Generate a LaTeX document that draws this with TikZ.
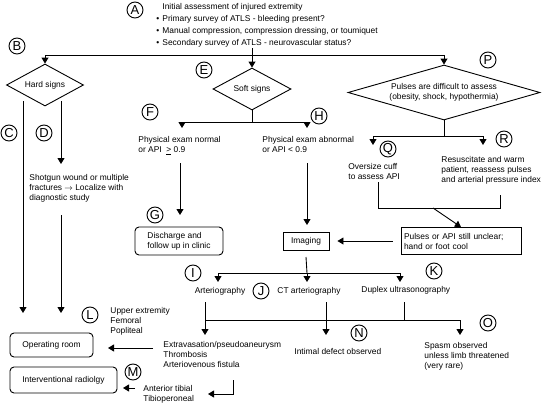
\documentclass[tikz,border=0pt]{standalone}
\usepackage{fontspec}
\setmainfont{Liberation Sans}
\usetikzlibrary{arrows.meta,shapes.geometric}
\begin{document}
\begin{tikzpicture}[x=1pt,y=-1pt,line width=0.9pt,
  arr/.style={-{Triangle[width=7pt,length=6pt]}},
  lab/.style={circle,draw,minimum size=16pt,inner sep=0pt,font=\fontsize{13}{13}\selectfont},
  txt/.style={inner sep=0pt,align=left,anchor=north west,font=\fontsize{8.4}{10}\selectfont},
  dia/.style={diamond,draw,inner sep=0pt,aspect=3,font=\fontsize{8.4}{10}\selectfont,align=center},
  rbox/.style={draw,rounded corners=4pt,inner sep=0pt,font=\fontsize{8.4}{10}\selectfont,align=left},
  sbox/.style={draw,inner sep=0pt,font=\fontsize{8.4}{10}\selectfont,align=left}]
\fill[white] (0,0) rectangle (542,405);
\useasboundingbox (0,0) rectangle (542,405);

% letter labels
\node[lab] (lA) at (135,10) {A};
\node[lab] (lB) at (17,46) {B};
\node[lab] (lC) at (9,133) {C};
\node[lab] (lD) at (44,133) {D};
\node[lab] (lE) at (204,70) {E};
\node[lab] (lF) at (150,112) {F};
\node[lab] (lG) at (155,215) {G};
\node[lab] (lH) at (319,116) {H};
\node[lab] (lI) at (193,273) {I};
\node[lab] (lJ) at (261,291) {J};
\node[lab] (lK) at (434,271) {K};
\node[lab] (lL) at (90,315) {L};
\node[lab] (lM) at (133,372) {M};
\node[lab] (lN) at (359,333) {N};
\node[lab] (lO) at (488,323) {O};
\node[lab] (lP) at (488,60) {P};
\node[lab] (lQ) at (388,149) {Q};
\node[lab] (lR) at (504,139) {R};

% A text
\node[txt,font=\fontsize{8.4}{12}\selectfont] (tA) at (156,3)
 {\makebox[6pt][l]{}Initial assessment of injured extremity\\
  \makebox[6pt][l]{\textbullet}Primary survey of ATLS - bleeding present?\\
  \makebox[6pt][l]{\textbullet}Manual compression, compression dressing, or toumiquet\\
  \makebox[6pt][l]{\textbullet}Secondary survey of ATLS - neurovascular status?};

% diamonds
\node[dia,aspect=1.8,minimum width=77pt,minimum height=42pt] (hard) at (45,85) {Hard signs};
\node[dia,aspect=1.8,minimum width=78pt,minimum height=42pt] (soft) at (252,89) {Soft signs};
\node[dia,aspect=3.5,minimum width=192pt,minimum height=55pt] (pul) at (444,92.5)
 {Pulses are difficult to assess\\(obesity, shock, hypothermia)};

% texts
\node[txt] (tD) at (29,174) {Shotgun wound or multiple\\fractures $\rightarrow$ Localize with\\diagnostic study};
\node[txt] (tF) at (138,136) {Physical exam normal\\or API\ \ \underline{>} 0.9};
\node[txt] (tH) at (262,136) {Physical exam abnormal\\or API < 0.9};
\node[txt] (tQ) at (348,163) {Oversize cuff\\to assess API};
\node[txt] (tR) at (441,156) {Resuscitate and warm\\patient, reassess pulses\\and arterial pressure index};
\node[txt,anchor=north] (tI) at (220,287) {Arteriography};
\node[txt] (tJ) at (277,287) {CT arteriography};
\node[txt] (tK) at (361,286) {Duplex ultrasonography};
\node[txt] (tX) at (163,341) {Extravasation/pseudoaneurysm\\Thrombosis\\Arteriovenous fistula};
\node[txt] (tN) at (294,348) {Intimal defect observed};
\node[txt] (tO) at (424,342) {Spasm observed\\unless limb threatened\\(very rare)};
\node[txt] (tL) at (110,307) {Upper extremity\\Femoral\\Popliteal};
\node[txt] (tM) at (143,385) {Anterior tibial\\Tibioperoneal};

% boxes
\node[rbox,minimum width=88pt,minimum height=28pt] (dis) at (179,241) {Discharge and\\follow up in clinic};
\node[sbox,minimum width=46pt,minimum height=18pt] (img) at (306,241) {Imaging};
\node[sbox,text width=114pt,inner xsep=3pt,minimum height=27pt] (pbox) at (461,241)
 {Pulses or API still unclear;\\hand or foot cool};
\node[rbox,align=center,minimum width=83pt,minimum height=24pt] (orm) at (51.5,345) {Operating room};
\node[rbox,align=center,minimum width=107pt,minimum height=26pt] (irad) at (63.5,380) {Interventional radiolgy};

% top connectors
\coordinate (aBot) at (252,48);
\coordinate (jL) at (45,55);
\coordinate (jR) at (444,55);
\draw (jL) -- (jR);
\draw[arr] (jL) -- (hard.north);
\draw[arr] (aBot) -- (soft.north);
\draw[arr] (jR) -- (pul.north);

% hard signs
\coordinate (c1) at (23,101); \coordinate (c2) at (23,313);
\draw[arr] (c1) -- (c2);
\coordinate (d1) at (61,101); \coordinate (d2) at (61,164);
\draw[arr] (d1) -- (d2);
\coordinate (d3) at (61,215); \coordinate (d4) at (61,313);
\draw[arr] (d3) -- (d4);

% soft signs
\coordinate (sj) at (252,122);
\coordinate (fj) at (182,122); \coordinate (hj) at (307,122);
\draw (soft.south) -- (sj);
\draw (fj) -- (hj);
\draw[arr] (fj) -- ++(0,6);
\draw[arr] (hj) -- ++(0,6);
\coordinate (f1) at (180,163); \coordinate (f2) at (180,215);
\draw[arr] (f1) -- (f2);
\coordinate (h1) at (307,163);
\draw[arr] (h1) -- (307,225);

% pulses
\coordinate (pj) at (444,136);
\coordinate (qj) at (373,136); \coordinate (rj) at (483,136);
\draw (pul.south) -- (pj);
\draw (qj) -- (rj);
\draw[arr] (qj) -- ++(0,9);
\draw[arr] (rj) -- ++(0,9);
\coordinate (q1) at (378,182); \coordinate (r1) at (500,195);
\coordinate (m1) at (433,208);
\draw (q1) -- (378,208) -- (500,208) -- (r1);
\draw[arr] (m1) -- (pbox.north);
\draw[arr,shorten <=8pt,shorten >=8pt] (pbox.west) -- (img.east);

% imaging branches
\coordinate (ij) at (307,273);
\coordinate (iL) at (218,273); \coordinate (iR) at (400,273);
\draw (306,257) -- (ij);
\draw (iL) -- (iR);
\draw[arr] (iL) -- ++(0,9);
\draw[arr] (ij) -- ++(0,9);
\draw[arr] (iR) -- ++(0,9);

% results
\coordinate (a1) at (205,302); \coordinate (a2) at (205,320);
\coordinate (e1) at (460,320);
\draw (a1) -- (a2) -- (e1);
\draw (404,302) -- (404,320);
\draw[arr] (a2) -- (205,335);
\draw[arr] (326,302) -- (326,335);
\draw[arr] (e1) -- (460,335);

% to treatment boxes
\draw[arr] (153,348) -- (108,348);
\draw[arr] (135,388) -- (123,388);
\draw[arr] (233,380) -- (233,394) -- (208,394);
\end{tikzpicture}
\end{document}
